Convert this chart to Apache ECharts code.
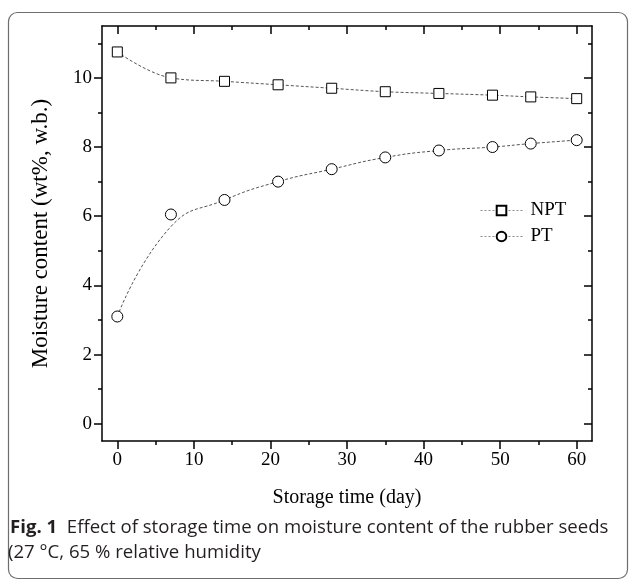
<!DOCTYPE html>
<html><head><meta charset="utf-8">
<script src="https://cdn.jsdelivr.net/npm/echarts@6/dist/echarts.min.js"></script>
<style>html,body{margin:0;padding:0;background:#fff}#c{width:630px;height:580px}</style>
</head><body><div id="c"></div>
<script>
const days = [0, 7, 14, 21, 28, 35, 42, 49, 54, 60];
const npt = [10.75, 10.0, 9.9, 9.8, 9.7, 9.6, 9.55, 9.5, 9.45, 9.4];
const pt = [3.1, 6.05, 6.47, 7.0, 7.36, 7.7, 7.9, 8.0, 8.1, 8.2];
const ptCurve = [3.1, 5.7, 6.47, 7.0, 7.36, 7.7, 7.9, 8.0, 8.1, 8.2];
const xMajor = [0, 10, 20, 30, 40, 50, 60];
const xMinor = [5, 15, 25, 35, 45, 55];
const yMajor = [0, 2, 4, 6, 8, 10];
const yMinor = [1, 3, 5, 7, 9, 11];

const serif = 'Liberation Serif';
const lineCol = '#555';
const legendLine = {opacity:1, color:'#8a8a8a', type:[2,2], width:1};
const pairs = (xs, ys) => xs.map((x, i) => [x, ys[i]]);

function xAx(pos, vals, len, inside, labels, line) {
  return {type:'value', position:pos, min:-2, max:62, gridIndex:0,
    axisLine:{show:line, onZero:false, lineStyle:{color:'#000', width:1.5}},
    axisTick:{show:true, inside:inside, length:len, customValues:vals, lineStyle:{color:'#000', width:1.5}},
    axisLabel:{show:labels, customValues:vals, fontFamily:serif, fontSize:19, color:'#000', margin:10},
    splitLine:{show:false}};
}
function yAx(pos, vals, len, inside, labels, line) {
  return {type:'value', position:pos, min:-0.5, max:11.5, gridIndex:0,
    axisLine:{show:line, onZero:false, lineStyle:{color:'#000', width:1.5}},
    axisTick:{show:true, inside:inside, length:len, customValues:vals, lineStyle:{color:'#000', width:1.5}},
    axisLabel:{show:labels, customValues:vals, fontFamily:serif, fontSize:19, color:'#000', margin:10},
    splitLine:{show:false}};
}

const xAxes = [
  Object.assign(xAx('bottom', xMajor, 8, false, true, true), {name:'Storage time (day)', nameLocation:'middle', nameGap:47, nameTextStyle:{fontFamily:serif, fontSize:20, color:'#000'}}),
  xAx('bottom', xMinor, 4, false, false, false),
  xAx('top', xMajor, 8, true, false, true),
  xAx('top', xMinor, 4, true, false, false)
];
const yAxes = [
  Object.assign(yAx('left', yMajor, 8, false, true, true), {name:'Moisture content (wt%, w.b.)', nameLocation:'middle', nameGap:50, nameTextStyle:{fontFamily:serif, fontSize:23, color:'#000'}}),
  yAx('left', yMinor, 4, false, false, false),
  yAx('right', yMajor, 8, true, false, true),
  yAx('right', yMinor, 4, true, false, false)
];

const chart = echarts.init(document.getElementById('c'), null, {renderer:'canvas'});
chart.setOption({
  animation:false,
  backgroundColor:'#fff',
  grid:{left:102, top:26, width:490, height:415},
  xAxis:xAxes,
  yAxis:yAxes,
  legend:{
    orient:'vertical', left:475, top:196, itemGap:7, itemWidth:42, itemHeight:12,
    textStyle:{fontFamily:serif, fontSize:19, color:'#000', padding:[0,0,0,3]},
    data:[
      {name:'NPT', lineStyle:legendLine},
      {name:'PT', lineStyle:legendLine}
    ]
  },
  graphic:[
    {type:'rect', shape:{x:8.5, y:12.5, width:619, height:566, r:9}, style:{fill:'none', stroke:'#6e6e6e', lineWidth:1.2}, silent:true},
    {type:'text', left:10, top:518, style:{rich:{b:{fontFamily:'Open Sans', fontWeight:'bold', fontSize:18.6, fill:'#231f20'}, n:{fontFamily:'Open Sans', fontSize:18.6, fill:'#231f20'}}, text:'{b|Fig. 1}{n|  Effect of storage time on moisture content of the rubber seeds}'}},
    {type:'text', left:8, top:543, style:{fontFamily:'Open Sans', fontSize:18.6, fill:'#231f20', text:'(27 °C, 65 % relative humidity'}}
  ],
  series:[
    {name:'NPT', type:'line', smooth:0.4, data:pairs(days, npt), symbol:'rect', symbolSize:10,
      lineStyle:{color:lineCol, type:[3,2], width:1},
      itemStyle:{color:'#fff', borderColor:'#000', borderWidth:1}, z:3},
    {name:'PT curve', type:'line', smooth:0.5, data:pairs(days, ptCurve), symbol:'none',
      lineStyle:{color:lineCol, type:[3,2], width:1}, z:2},
    {name:'PT', type:'line', data:pairs(days, pt), symbol:'circle', symbolSize:11,
      lineStyle:{opacity:0, color:lineCol, type:[3,2], width:1},
      itemStyle:{color:'#fff', borderColor:'#000', borderWidth:1}, z:4}
  ]
});
</script></body></html>
